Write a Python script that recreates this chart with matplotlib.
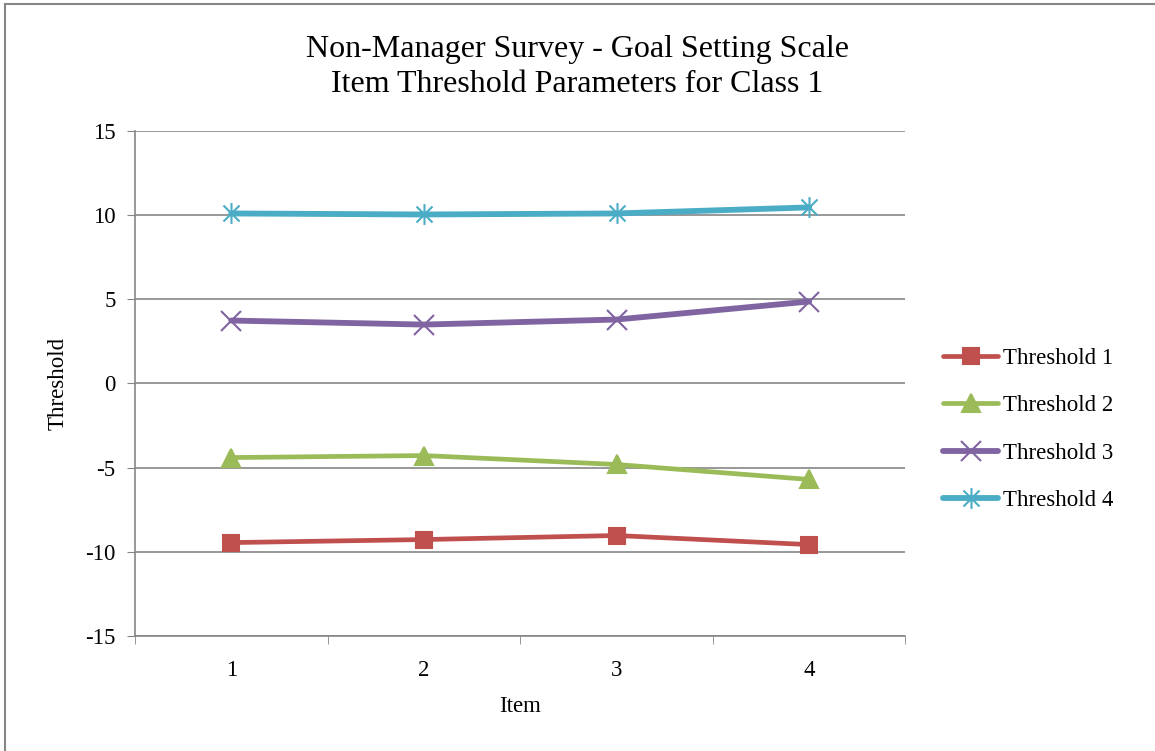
import matplotlib.pyplot as plt
from matplotlib.path import Path
from matplotlib.lines import Line2D

plt.rcParams["font.family"] = ["Liberation Serif", "DejaVu Serif"]
plt.rcParams["axes.unicode_minus"] = False

items = [1, 2, 3, 4]
threshold_1 = [-9.45, -9.27, -9.03, -9.57]
threshold_2 = [-4.40, -4.28, -4.81, -5.70]
threshold_3 = [3.74, 3.50, 3.80, 4.87]
threshold_4 = [10.10, 10.04, 10.10, 10.46]
names = ["Threshold 1", "Threshold 2", "Threshold 3", "Threshold 4"]

# excel style asterisk: an x with a vertical bar through it
star = Path(
    [(-1, -1), (1, 1), (-1, 1), (1, -1), (0, -1.3), (0, 1.3)],
    [Path.MOVETO, Path.LINETO, Path.MOVETO, Path.LINETO, Path.MOVETO, Path.LINETO],
)

series = [
    (threshold_1, "#C0504D", "s", 12, 3.4),
    (threshold_2, "#9BBB59", "^", 13, 3.4),
    (threshold_3, "#8064A2", "x", 14, 4.2),
    (threshold_4, "#4BACC6", star, 15, 4.2),
]

fig = plt.figure(figsize=(11.55, 7.51), dpi=100)
ax = fig.add_axes([0.1169, 0.1531, 0.6670, 0.6725])

for (vals, col, mk, ms, lw), name in zip(series, names):
    ax.plot(items, vals, color=col, lw=lw, marker=mk, markersize=ms,
            markeredgecolor=col, markerfacecolor=col, markeredgewidth=1.5,
            label=name, solid_capstyle="round")

ax.set_xlim(0.5, 4.5)
ax.set_ylim(-15, 15)
ax.set_yticks(range(-15, 16, 5))
ax.set_xticks(items)
ax.set_xticks([0.5, 1.5, 2.5, 3.5, 4.5], minor=True)
ax.tick_params(axis="x", which="major", length=0, labelsize=16.5, pad=17)
ax.tick_params(axis="x", which="minor", length=6, color="#868686", direction="out")
ax.tick_params(axis="y", length=6, color="#868686", labelsize=16.5, pad=8)
ax.yaxis.grid(True, color="#868686", lw=1.2)
ax.set_axisbelow(True)
for s in ["top", "right"]:
    ax.spines[s].set_visible(False)
for s in ["left", "bottom"]:
    ax.spines[s].set_color("#868686")
    ax.spines[s].set_linewidth(1.2)

ax.set_xlabel("Item", fontsize=16.5, labelpad=11)
ax.set_ylabel("Threshold", fontsize=16.5, labelpad=12)
fig.text(0.5, 0.934, "Non-Manager Survey - Goal Setting Scale", ha="center",
         va="center", fontsize=23)
fig.text(0.5, 0.888, "Item Threshold Parameters for Class 1", ha="center",
         va="center", fontsize=23)

fig.legend(loc="center left", bbox_to_anchor=(0.799, 0.428), frameon=False,
           fontsize=16.5, handlelength=2.4, handletextpad=0.2, labelspacing=1.15)

# chart border on the left and top edges
fig.add_artist(Line2D([0.0047, 0.0047], [0, 0.995], color="#868686", lw=1.5))
fig.add_artist(Line2D([0.0047, 1], [0.995, 0.995], color="#868686", lw=1.5))

fig.savefig("out.png", dpi=100)
